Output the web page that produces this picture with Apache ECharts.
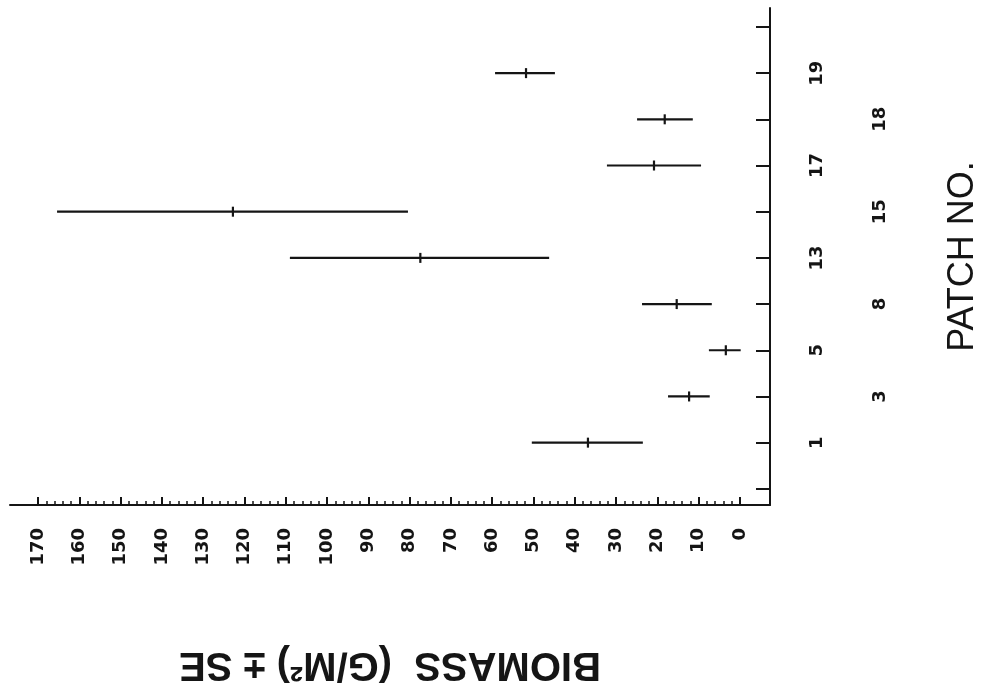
<!DOCTYPE html>
<html>
<head>
<meta charset="utf-8">
<script src="https://cdn.jsdelivr.net/npm/echarts@6/dist/echarts.min.js"></script>
<style>
    html, body { margin: 0; padding: 0; background: #fff; }
    #chart { width: 987px; height: 698px; }
</style>
</head>
<body>
<div id="chart"></div>
<script>
// patch numbers, bottom to top on the category axis
const patches = ['1', '3', '5', '8', '13', '15', '17', '18', '19'];
// biomass mean and the ends of the SE bars (g/m2)
const means = [36.8, 12.3, 3.4, 15.3, 77.4, 122.8, 20.8, 18.2, 51.8];
const lows = [23.5, 7.3, -0.2, 6.8, 46.2, 80.4, 9.4, 11.4, 44.8];
const highs = [50.4, 17.4, 7.5, 23.7, 109, 165.4, 32.2, 24.9, 59.3];

const biomassTicks = [0, 10, 20, 30, 40, 50, 60, 70, 80, 90, 100, 110, 120, 130, 140, 150, 160, 170];
const biomassMinor = [];
for (let v = 0; v <= 170; v += 2) biomassMinor.push(v);
const patchTicks = [0, 1, 2, 3, 4, 5, 6, 7, 8, 9, 10];
const patchNear = [1, 3, 5, 7, 9];
const patchFar = [2, 4, 6, 8];

const ink = '#151515';
const data = patches.map((p, i) => [i + 1, lows[i], highs[i], means[i]]);

let myChart = echarts.init(document.getElementById('chart'));
let labelFont = {
    color: ink,
    fontFamily: 'DejaVu Sans',
    fontWeight: 'bold',
    fontSize: 18
};
let option = {
    backgroundColor: '#fff',
    animation: false,
    grid: {
        left: 10,
        right: 217,
        top: 8,
        bottom: 193,
        containLabel: false,
        outerBoundsMode: 'none'
    },
    xAxis: [
        {
            type: 'value',
            inverse: true,
            min: -7.3,
            max: 176.8,
            position: 'bottom',
            name: 'BIOMASS  (G/M²) ± SE',
            nameLocation: 'middle',
            nameRotate: 180,
            nameGap: 139,
            nameTextStyle: {
                color: ink,
                fontFamily: 'Liberation Sans',
                fontWeight: 'bold',
                fontSize: 40
            },
            axisLine: { onZero: false, lineStyle: { color: ink, width: 2 } },
            axisTick: {
                inside: true,
                length: 8,
                lineStyle: { color: ink, width: 2 },
                customValues: biomassTicks
            },
            axisLabel: Object.assign({
                rotate: 90,
                margin: 23,
                align: 'right',
                verticalAlign: 'middle',
                customValues: biomassTicks
            }, labelFont),
            splitLine: { show: false }
        },
        {
            type: 'value',
            inverse: true,
            min: -7.3,
            max: 176.8,
            position: 'bottom',
            axisLine: { show: false, onZero: false },
            axisTick: {
                inside: true,
                length: 4,
                lineStyle: { color: ink, width: 1.5 },
                customValues: biomassMinor
            },
            axisLabel: { show: false },
            splitLine: { show: false }
        }
    ],
    yAxis: [
        {
            type: 'value',
            position: 'right',
            min: -0.35,
            max: 10.41,
            name: 'PATCH NO.',
            nameLocation: 'middle',
            nameRotate: 90,
            nameGap: 175,
            nameTextStyle: {
                color: ink,
                fontFamily: 'Liberation Sans',
                fontSize: 36
            },
            axisLine: { onZero: false, lineStyle: { color: ink, width: 2 } },
            axisTick: {
                inside: true,
                length: 14,
                lineStyle: { color: ink, width: 2 },
                customValues: patchTicks
            },
            axisLabel: Object.assign({
                rotate: 90,
                margin: 47,
                align: 'center',
                verticalAlign: 'middle',
                customValues: patchNear,
                formatter: v => patches[Math.round(v) - 1]
            }, labelFont),
            splitLine: { show: false }
        },
        {
            type: 'value',
            position: 'right',
            min: -0.35,
            max: 10.41,
            axisLine: { show: false, onZero: false },
            axisTick: { show: false },
            axisLabel: Object.assign({
                rotate: 90,
                margin: 110,
                align: 'center',
                verticalAlign: 'middle',
                customValues: patchFar,
                formatter: v => patches[Math.round(v) - 1]
            }, labelFont),
            splitLine: { show: false }
        }
    ],
    series: [
        {
            type: 'custom',
            xAxisIndex: 0,
            yAxisIndex: 0,
            data: data,
            renderItem: function (params, api) {
                let y = api.value(0);
                let lo = api.coord([api.value(1), y]);
                let hi = api.coord([api.value(2), y]);
                let mid = api.coord([api.value(3), y]);
                let style = { stroke: ink, lineWidth: 2.2 };
                return {
                    type: 'group',
                    children: [
                        {
                            type: 'line',
                            shape: { x1: lo[0], y1: lo[1], x2: hi[0], y2: hi[1] },
                            style: style
                        },
                        {
                            type: 'line',
                            shape: { x1: mid[0], y1: mid[1] - 5, x2: mid[0], y2: mid[1] + 5 },
                            style: style
                        }
                    ]
                };
            }
        }
    ]
};
myChart.setOption(option);
</script>
</body>
</html>
